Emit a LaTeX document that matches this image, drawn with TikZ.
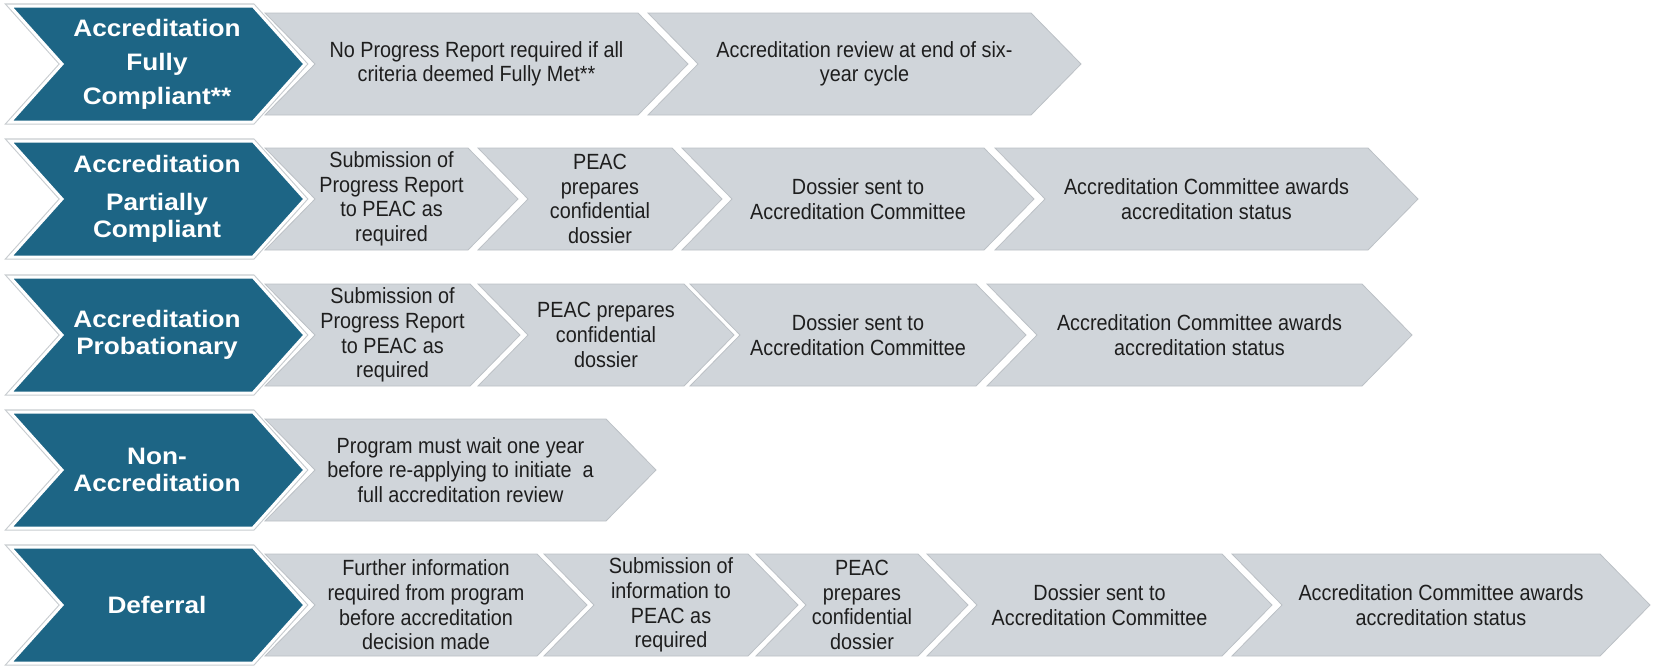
\documentclass[tikz,border=0pt]{standalone}
\usepackage{fontspec}
\setmainfont{Liberation Sans}
\newfontfamily\narrowfont[FakeStretch=0.9]{Liberation Sans}
\newfontfamily\widefont[FakeStretch=1.1]{Liberation Sans}

\definecolor{leadblue}{RGB}{29,101,133}
\definecolor{leadrim}{RGB}{200,204,208}
\definecolor{stagegray}{RGB}{208,213,218}
\definecolor{stageedge}{RGB}{188,193,198}
\definecolor{inkgray}{RGB}{30,30,30}

\newcommand{\stagefont}{\narrowfont\fontsize{11}{12.3}\selectfont}
\newcommand{\leadfont}{\widefont\bfseries\fontsize{11.9}{13.5}\selectfont}

% gray step: name, left x, right x, row y, text
\newcommand{\stagebox}[5]{%
  \filldraw[stage] (#2,#4-51) -- (#3,#4-51) -- (#3+50,#4) -- (#3,#4+51) -- (#2,#4+51) -- (#2+50,#4) -- cycle;
  \node[stagetext] (#1) at ({(#2+#3)/2+25},#4) {#5};
}
% blue outcome: name, row y, text
\newcommand{\leadbox}[3]{%
  \filldraw[lead] (10,#2-58) -- (253,#2-58) -- (305,#2) -- (253,#2+58) -- (10,#2+58) -- (62,#2) -- cycle;
  \node[leadtext] (#1) at (157,#2) {#3};
}

\begin{document}
\begin{tikzpicture}[x=0.5pt,y=-0.5pt]

\tikzstyle{stage} = [fill=stagegray, draw=stageedge, line width=0.4pt]
\tikzstyle{lead} = [fill=leadblue, draw=white, line width=1.5pt, preaction={draw=leadrim, line width=2.6pt}]
\tikzstyle{stagetext} = [align=center, inner sep=0pt, text=inkgray, font=\stagefont]
\tikzstyle{leadtext} = [align=center, inner sep=0pt, text=white, font=\leadfont]

\useasboundingbox (0,0) rectangle (1657,666);

% fully compliant
\stagebox{fc1}{265}{638}{64}{No Progress Report required if all\\criteria deemed Fully Met**}
\stagebox{fc2}{648}{1031}{64}{Accreditation review at end of six-\\year cycle}
\leadbox{fc}{64}{Accreditation\\[3.5pt]Fully\\[3.5pt]Compliant**}

% partially compliant
\stagebox{pc1}{265}{468}{199}{Submission of\\Progress Report\\to PEAC as\\required}
\stagebox{pc2}{478}{672}{199}{PEAC\\prepares\\confidential\\dossier}
\stagebox{pc3}{682}{984}{199}{Dossier sent to\\Accreditation Committee}
\stagebox{pc4}{995}{1368}{199}{Accreditation Committee awards\\accreditation status}
\leadbox{pc}{199}{Accreditation\\[5.5pt]Partially\\Compliant}

% probationary
\stagebox{pb1}{265}{470}{335}{Submission of\\Progress Report\\to PEAC as\\required}
\stagebox{pb2}{478}{684}{335}{PEAC prepares\\confidential\\dossier}
\stagebox{pb3}{690}{976}{335}{Dossier sent to\\Accreditation Committee}
\stagebox{pb4}{987}{1362}{335}{Accreditation Committee awards\\accreditation status}
\leadbox{pb}{335}{Accreditation\\Probationary}

% non-accreditation
\stagebox{na1}{265}{606}{470}{Program must wait one year\\before re-applying to initiate\ \ a\\full accreditation review}
\leadbox{na}{470}{Non-\\Accreditation}

% deferral
\stagebox{df1}{265}{537}{605}{Further information\\required from program\\before accreditation\\decision made}
\stagebox{df2}{544}{748}{605}{Submission of\\information to\\PEAC as\\required}
\stagebox{df3}{756}{918}{605}{PEAC\\prepares\\confidential\\dossier}
\stagebox{df4}{927}{1222}{605}{Dossier sent to\\Accreditation Committee}
\stagebox{df5}{1232}{1600}{605}{Accreditation Committee awards\\accreditation status}
\leadbox{df}{605}{Deferral}

\end{tikzpicture}
\end{document}
